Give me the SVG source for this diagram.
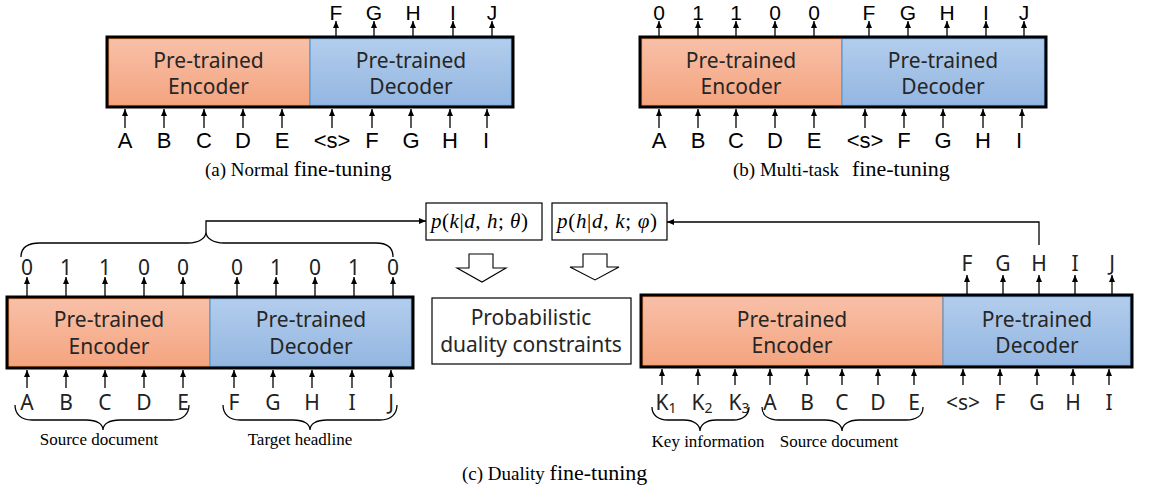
<svg xmlns="http://www.w3.org/2000/svg" width="1173" height="490" viewBox="0 0 1173 490">
<defs>
<linearGradient id="gOr" x1="0" y1="0" x2="0" y2="1"><stop offset="0" stop-color="#F8C0A8"/><stop offset="1" stop-color="#F4A47F"/></linearGradient>
<linearGradient id="gBl" x1="0" y1="0" x2="0" y2="1"><stop offset="0" stop-color="#B3CDEC"/><stop offset="1" stop-color="#93B6E1"/></linearGradient>
<marker id="ah" viewBox="0 0 7 6" refX="7" refY="3" markerWidth="7" markerHeight="6" markerUnits="userSpaceOnUse" orient="auto"><path d="M0,0 L7,3 L0,6 z" fill="#000"/></marker>
</defs>
<style>
.enc{fill:url(#gOr);stroke:#ED7D31;stroke-width:1.3}
.dec{fill:url(#gBl);stroke:#5B9BD5;stroke-width:1.3}
.outer{fill:none;stroke:#000;stroke-width:3}
.bt{font-family:"Noto Sans","Liberation Sans",sans-serif;font-size:21px;fill:#262626;text-anchor:middle}
.la{font-family:"Liberation Sans",Arial,sans-serif;font-size:22px;fill:#000;text-anchor:middle}
.lt{font-family:"Liberation Sans",Arial,sans-serif;font-size:21px;fill:#000;text-anchor:middle}
.lc{font-family:"Noto Sans","Liberation Sans",sans-serif;font-size:21px;fill:#222;text-anchor:middle}
.sub{font-size:14px}
.cap{font-family:"Liberation Serif","Times New Roman",serif;font-size:19px;fill:#000}
.big{font-size:22px}
.sm{font-family:"Liberation Serif","Times New Roman",serif;font-size:17px;fill:#000;text-anchor:middle}
.fm{font-family:"Liberation Serif","Times New Roman",serif;font-size:21px;font-style:italic;fill:#000}
.up{font-style:normal}
.box{fill:#fff;stroke:#000;stroke-width:1.2}
.ar{stroke:#000;stroke-width:1.3;fill:none;marker-end:url(#ah)}
.br{stroke:#000;stroke-width:1.3;fill:none}
.hol{fill:#fff;stroke:#000;stroke-width:1.1}
</style>

<!-- Panel (a) -->
<g id="a-model">
<rect class="enc" x="108.5" y="38.5" width="201.5" height="67"/>
<rect class="dec" x="310" y="38.5" width="201.5" height="67"/>
<rect class="outer" x="107" y="37" width="406" height="70"/>
<text class="bt" x="208.5" y="68">Pre-trained</text>
<text class="bt" x="208.5" y="94">Encoder</text>
<text class="bt" x="411" y="68">Pre-trained</text>
<text class="bt" x="411" y="94">Decoder</text>
</g>
<g id="a-labels">
<text class="lt" x="336" y="19.5">F</text><text class="lt" x="374" y="19.5">G</text><text class="lt" x="413" y="19.5">H</text><text class="lt" x="453" y="19.5">I</text><text class="lt" x="492" y="19.5">J</text>
<text class="la" x="125" y="148">A</text><text class="la" x="164" y="148">B</text><text class="la" x="204" y="148">C</text><text class="la" x="243" y="148">D</text><text class="la" x="282" y="148">E</text>
<text class="la" x="332" y="148">&lt;s&gt;</text><text class="la" x="372" y="148">F</text><text class="la" x="411" y="148">G</text><text class="la" x="450" y="148">H</text><text class="la" x="486" y="148">I</text>
<text class="cap" x="205" y="176">(a) Normal <tspan class="big">fine-tuning</tspan></text>
</g>

<!-- Panel (b) -->
<g id="b-model">
<rect class="enc" x="641.5" y="38.5" width="200.5" height="67"/>
<rect class="dec" x="842" y="38.5" width="202.5" height="67"/>
<rect class="outer" x="640" y="37" width="406" height="70"/>
<text class="bt" x="741" y="68">Pre-trained</text>
<text class="bt" x="741" y="94">Encoder</text>
<text class="bt" x="943" y="68">Pre-trained</text>
<text class="bt" x="943" y="94">Decoder</text>
</g>
<g id="b-labels">
<text class="lt" x="659" y="19.5">0</text><text class="lt" x="698" y="19.5">1</text><text class="lt" x="736" y="19.5">1</text><text class="lt" x="775" y="19.5">0</text><text class="lt" x="814" y="19.5">0</text>
<text class="lt" x="869" y="19.5">F</text><text class="lt" x="908" y="19.5">G</text><text class="lt" x="947" y="19.5">H</text><text class="lt" x="986" y="19.5">I</text><text class="lt" x="1024" y="19.5">J</text>
<text class="la" x="659" y="148">A</text><text class="la" x="698" y="148">B</text><text class="la" x="736" y="148">C</text><text class="la" x="775" y="148">D</text><text class="la" x="814" y="148">E</text>
<text class="la" x="865" y="148">&lt;s&gt;</text><text class="la" x="904" y="148">F</text><text class="la" x="943" y="148">G</text><text class="la" x="983" y="148">H</text><text class="la" x="1019" y="148">I</text>
<text class="cap" x="733" y="176">(b) Multi-task  <tspan class="big" x="852">fine-tuning</tspan></text>
</g>

<!-- Panel (c) left -->
<g id="c-left-model">
<rect class="enc" x="8.5" y="298.5" width="201.5" height="68"/>
<rect class="dec" x="210" y="298.5" width="201.5" height="68"/>
<rect class="outer" x="7" y="297" width="406" height="71"/>
<text class="bt" x="109" y="327">Pre-trained</text>
<text class="bt" x="109" y="354">Encoder</text>
<text class="bt" x="311" y="327">Pre-trained</text>
<text class="bt" x="311" y="354">Decoder</text>
</g>
<g id="c-left-labels">
<text class="lc" x="27" y="275">0</text><text class="lc" x="66" y="275">1</text><text class="lc" x="105" y="275">1</text><text class="lc" x="144" y="275">0</text><text class="lc" x="183" y="275">0</text>
<text class="lc" x="237" y="275">0</text><text class="lc" x="276" y="275">1</text><text class="lc" x="315" y="275">0</text><text class="lc" x="354" y="275">1</text><text class="lc" x="393" y="275">0</text>
<text class="lc" x="27" y="410">A</text><text class="lc" x="66" y="410">B</text><text class="lc" x="105" y="410">C</text><text class="lc" x="144" y="410">D</text><text class="lc" x="183" y="410">E</text>
<text class="lc" x="234" y="410">F</text><text class="lc" x="273" y="410">G</text><text class="lc" x="312" y="410">H</text><text class="lc" x="352" y="410">I</text><text class="lc" x="391" y="410">J</text>
<text class="sm" x="99" y="445">Source document</text>
<text class="sm" x="300" y="445">Target headline</text>
</g>

<!-- Middle -->
<g id="p-k">
<rect class="box" x="426" y="203" width="116" height="37"/>
<text class="fm" x="431" y="228" textLength="97" lengthAdjust="spacing">p<tspan class="up">(</tspan>k<tspan class="up">|</tspan>d<tspan class="up">,</tspan> h<tspan class="up">;</tspan> θ<tspan class="up">)</tspan></text>
</g>
<g id="p-h">
<rect class="box" x="552" y="203" width="115" height="37"/>
<text class="fm" x="557" y="228" textLength="100" lengthAdjust="spacing">p<tspan class="up">(</tspan>h<tspan class="up">|</tspan>d<tspan class="up">,</tspan> k<tspan class="up">;</tspan> φ<tspan class="up">)</tspan></text>
</g>
<g id="hollow-arrows">
<polygon class="hol" points="469,254 493,254 493,268 506,268 482,282 457,268 469,268"/>
<polygon class="hol" points="583,254 607,254 607,267 619,267 595,280 570,267 583,267"/>
</g>
<g id="constraints">
<rect class="box" x="432" y="298" width="199" height="66"/>
<text class="bt" x="531" y="325">Probabilistic</text>
<text class="bt" x="531" y="352">duality constraints</text>
</g>

<!-- Panel (c) right -->
<g id="c-right-model">
<rect class="enc" x="642.5" y="296.5" width="300.5" height="69"/>
<rect class="dec" x="943" y="296.5" width="187.5" height="69"/>
<rect class="outer" x="641" y="295" width="491" height="72"/>
<text class="bt" x="792" y="327">Pre-trained</text>
<text class="bt" x="792" y="353">Encoder</text>
<text class="bt" x="1037" y="327">Pre-trained</text>
<text class="bt" x="1037" y="353">Decoder</text>
</g>
<g id="c-right-labels">
<text class="lc" x="967" y="271">F</text><text class="lc" x="1003" y="271">G</text><text class="lc" x="1039" y="271">H</text><text class="lc" x="1075" y="271">I</text><text class="lc" x="1112" y="271">J</text>
<text class="lc" x="666" y="410">K<tspan class="sub" dy="3">1</tspan></text>
<text class="lc" x="702" y="410">K<tspan class="sub" dy="3">2</tspan></text>
<text class="lc" x="739" y="410">K<tspan class="sub" dy="3">3</tspan></text>
<text class="lc" x="770" y="410">A</text><text class="lc" x="807" y="410">B</text><text class="lc" x="842" y="410">C</text><text class="lc" x="878" y="410">D</text><text class="lc" x="914" y="410">E</text>
<text class="lc" x="963" y="410">&lt;s&gt;</text><text class="lc" x="1000" y="410">F</text><text class="lc" x="1037" y="410">G</text><text class="lc" x="1073" y="410">H</text><text class="lc" x="1109" y="410">I</text>
<text class="sm" x="708" y="447">Key information</text>
<text class="sm" x="839" y="447">Source document</text>
<text class="cap" x="462" y="480">(c) Duality <tspan class="big">fine-tuning</tspan></text>
</g>

<!-- Connectors -->
<g id="connectors">
<!-- a -->
<line class="ar" x1="336" y1="36" x2="336" y2="21"/><line class="ar" x1="374" y1="36" x2="374" y2="21"/><line class="ar" x1="413" y1="36" x2="413" y2="21"/><line class="ar" x1="453" y1="36" x2="453" y2="21"/><line class="ar" x1="492" y1="36" x2="492" y2="21"/>
<line class="ar" x1="125" y1="128" x2="125" y2="109"/><line class="ar" x1="164" y1="128" x2="164" y2="109"/><line class="ar" x1="204" y1="128" x2="204" y2="109"/><line class="ar" x1="243" y1="128" x2="243" y2="109"/><line class="ar" x1="282" y1="128" x2="282" y2="109"/>
<line class="ar" x1="332" y1="128" x2="332" y2="109"/><line class="ar" x1="372" y1="128" x2="372" y2="109"/><line class="ar" x1="411" y1="128" x2="411" y2="109"/><line class="ar" x1="450" y1="128" x2="450" y2="109"/><line class="ar" x1="487" y1="128" x2="487" y2="109"/>
<!-- b -->
<line class="ar" x1="659" y1="36" x2="659" y2="21"/><line class="ar" x1="698" y1="36" x2="698" y2="21"/><line class="ar" x1="736" y1="36" x2="736" y2="21"/><line class="ar" x1="775" y1="36" x2="775" y2="21"/><line class="ar" x1="814" y1="36" x2="814" y2="21"/>
<line class="ar" x1="869" y1="36" x2="869" y2="21"/><line class="ar" x1="908" y1="36" x2="908" y2="21"/><line class="ar" x1="947" y1="36" x2="947" y2="21"/><line class="ar" x1="986" y1="36" x2="986" y2="21"/><line class="ar" x1="1024" y1="36" x2="1024" y2="21"/>
<line class="ar" x1="659" y1="128" x2="659" y2="109"/><line class="ar" x1="698" y1="128" x2="698" y2="109"/><line class="ar" x1="736" y1="128" x2="736" y2="109"/><line class="ar" x1="775" y1="128" x2="775" y2="109"/><line class="ar" x1="814" y1="128" x2="814" y2="109"/>
<line class="ar" x1="865" y1="128" x2="865" y2="109"/><line class="ar" x1="904" y1="128" x2="904" y2="109"/><line class="ar" x1="943" y1="128" x2="943" y2="109"/><line class="ar" x1="983" y1="128" x2="983" y2="109"/><line class="ar" x1="1022" y1="128" x2="1022" y2="109"/>
<!-- c left -->
<line class="ar" x1="27" y1="296" x2="27" y2="277"/><line class="ar" x1="66" y1="296" x2="66" y2="277"/><line class="ar" x1="105" y1="296" x2="105" y2="277"/><line class="ar" x1="144" y1="296" x2="144" y2="277"/><line class="ar" x1="183" y1="296" x2="183" y2="277"/>
<line class="ar" x1="237" y1="296" x2="237" y2="277"/><line class="ar" x1="276" y1="296" x2="276" y2="277"/><line class="ar" x1="315" y1="296" x2="315" y2="277"/><line class="ar" x1="354" y1="296" x2="354" y2="277"/><line class="ar" x1="393" y1="296" x2="393" y2="277"/>
<line class="ar" x1="27" y1="388" x2="27" y2="370"/><line class="ar" x1="66" y1="388" x2="66" y2="370"/><line class="ar" x1="105" y1="388" x2="105" y2="370"/><line class="ar" x1="144" y1="388" x2="144" y2="370"/><line class="ar" x1="183" y1="388" x2="183" y2="370"/>
<line class="ar" x1="234" y1="388" x2="234" y2="370"/><line class="ar" x1="273" y1="388" x2="273" y2="370"/><line class="ar" x1="312" y1="388" x2="312" y2="370"/><line class="ar" x1="352" y1="388" x2="352" y2="370"/><line class="ar" x1="391" y1="388" x2="391" y2="370"/>
<!-- c right -->
<line class="ar" x1="967" y1="294" x2="967" y2="275"/><line class="ar" x1="1003" y1="294" x2="1003" y2="275"/><line class="ar" x1="1039" y1="294" x2="1039" y2="275"/><line class="ar" x1="1075" y1="294" x2="1075" y2="275"/><line class="ar" x1="1112" y1="294" x2="1112" y2="275"/>
<line class="ar" x1="662" y1="385" x2="662" y2="369"/><line class="ar" x1="698" y1="385" x2="698" y2="369"/><line class="ar" x1="735" y1="385" x2="735" y2="369"/><line class="ar" x1="770" y1="385" x2="770" y2="369"/><line class="ar" x1="807" y1="385" x2="807" y2="369"/><line class="ar" x1="842" y1="385" x2="842" y2="369"/><line class="ar" x1="878" y1="385" x2="878" y2="369"/><line class="ar" x1="914" y1="385" x2="914" y2="369"/>
<line class="ar" x1="963" y1="385" x2="963" y2="369"/><line class="ar" x1="1000" y1="385" x2="1000" y2="369"/><line class="ar" x1="1037" y1="385" x2="1037" y2="369"/><line class="ar" x1="1073" y1="385" x2="1073" y2="369"/><line class="ar" x1="1109" y1="385" x2="1109" y2="369"/>
<!-- braces -->
<path class="br" d="M21,257 C21,248 27,243 40,243 L188,243 C199,243 206,238 206,232 C206,238 213,243 224,243 L376,243 C388,243 393,248 393,257"/>
<path class="br" d="M15,405 C15,414 21,420 32,420 L86,420 C97,420 103,424 103,430 C103,424 109,420 120,420 L172,420 C183,420 189,414 189,405"/>
<path class="br" d="M223,405 C223,414 229,420 240,420 L293,420 C304,420 310,424 310,430 C310,424 316,420 327,420 L380,420 C391,420 397,414 397,405"/>
<path class="br" d="M652,407 C652,415 658,420 668,420 L684,420 C694,420 700,425 700,431 C700,425 706,420 716,420 L733,420 C743,420 749,415 749,407"/>
<path class="br" d="M762,407 C762,415 768,420 779,420 L825,420 C836,420 842,425 842,431 C842,425 848,420 859,420 L906,420 C917,420 923,415 923,407"/>
<!-- links to formula boxes -->
<polyline class="ar" points="206,232 206,221 426,221"/>
<polyline class="ar" points="1039,245 1039,222 667,222"/>
</g>
</svg>
